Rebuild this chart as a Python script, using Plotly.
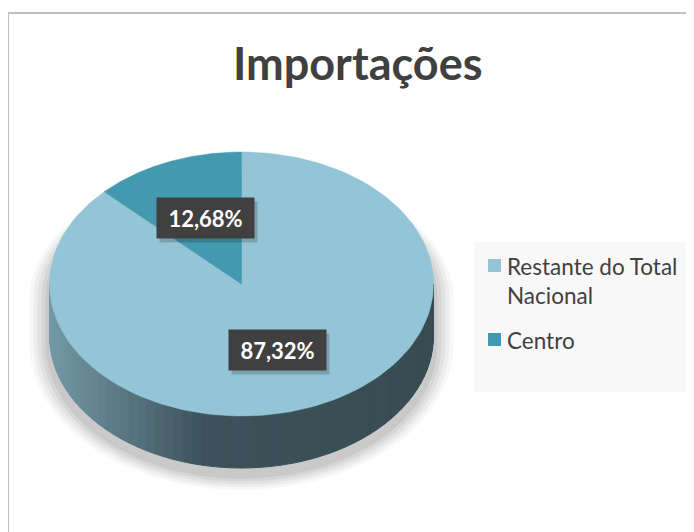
import math
import textwrap
import plotly.graph_objects as go

# ---------------- data ----------------
categories = ["Restante do Total Nacional", "Centro"]
values = [87.32, 12.68]
slice_colors = ["#93c5d7", "#4399b0"]
title_text = "Importações"

# ---------------- geometry / style constants ----------------
W, H = 694, 532
OFF = 8                    # page body margin offset
CX, CY = 241.5, 284.0      # centre of pie top face (pixels)
A, B = 192.0, 132.0        # semi-axes of top face
D = 52.0                   # depth of pie side
FONT = "Lato"
TXT = "#404040"


def pt(t, dy=0.0, a=A, b=B):
    return CX + a * math.sin(t), CY - b * math.cos(t) + dy


def arc(t0, t1, n=120, dy=0.0, a=A, b=B):
    xs, ys = [], []
    for i in range(n + 1):
        t = t0 + (t1 - t0) * i / n
        x, y = pt(t, dy, a, b)
        xs.append(x)
        ys.append(y)
    return xs, ys


def lerp_hex(c1, c2, f):
    c1 = [int(c1[i:i + 2], 16) for i in (1, 3, 5)]
    c2 = [int(c2[i:i + 2], 16) for i in (1, 3, 5)]
    c = [round(c1[k] + (c2[k] - c1[k]) * f) for k in range(3)]
    return "#%02x%02x%02x" % tuple(c)


fig = go.Figure()

# ---- soft shadow (hidden behind the top face at the back) ----
for s, op in [(20, 0.03), (16, 0.04), (12, 0.045), (8, 0.05), (4, 0.06)]:
    xb, yb = arc(-math.pi / 2, math.pi / 2, 80, dy=14, a=A + s, b=B - 4)
    xf, yf = arc(math.pi / 2, 3 * math.pi / 2, 80, dy=8 + D, a=A + s, b=B + s * 0.7)
    fig.add_trace(go.Scatter(x=xb + xf + [xb[0]], y=yb + yf + [yb[0]], mode="lines",
                             fill="toself", fillcolor=f"rgba(0,0,0,{op})",
                             line=dict(width=0), hoverinfo="skip", showlegend=False))

# ---- side of the pie (front half), gradient strips ----
NS = 60
for i in range(NS):
    t0 = math.pi / 2 + math.pi * i / NS
    t1 = math.pi / 2 + math.pi * (i + 1) / NS
    xs, ys = arc(t0, t1, 4)
    xs2, ys2 = arc(t1, t0, 4, dy=D)
    xm = (xs[0] + xs[-1]) / 2
    f = (xm - (CX - A)) / (2 * A)  # 0 at left, 1 at right
    if f < 0.4:
        col = lerp_hex("#7399a7", "#3d525a", f / 0.4)
    else:
        col = lerp_hex("#3d525a", "#384b53", (f - 0.4) / 0.6)
    fig.add_trace(go.Scatter(x=xs + xs2 + [xs[0]], y=ys + ys2 + [ys[0]], mode="lines",
                             fill="toself", fillcolor=col, line=dict(width=1, color=col),
                             hoverinfo="skip", showlegend=False))

# ---- top face slices ----
total = sum(values)
start = 0.0
label_pos = []
for cat, v, col in zip(categories, values, slice_colors):
    t0 = 2 * math.pi * start / total
    t1 = 2 * math.pi * (start + v) / total
    xs, ys = arc(t0, t1, 160)
    fig.add_trace(go.Scatter(x=[CX] + xs + [CX], y=[CY] + ys + [CY], mode="lines",
                             fill="toself", fillcolor=col, line=dict(width=0.5, color=col),
                             name=cat, hoverinfo="name", showlegend=False))
    tm = (t0 + t1) / 2
    label_pos.append(pt(tm, a=A * 0.49, b=B * 0.54))
    start += v

annotations = []

# ---- data labels ----
for (lx, ly), v in zip(label_pos, values):
    txt = f"{v:.2f}".replace(".", ",") + "%"
    annotations.append(dict(x=lx + 3, y=ly + 4, xref="x", yref="y", text=" ",
                            showarrow=False, width=97, height=40, borderpad=0,
                            bgcolor="rgba(0,0,0,0.18)"))
    annotations.append(dict(x=lx, y=ly, xref="x", yref="y", text=f"<b>{txt}</b>",
                            showarrow=False, width=97, height=40, borderpad=0,
                            bgcolor="#404040",
                            font=dict(family=FONT, size=22, color="white")))

# ---- title ----
annotations.append(dict(x=357, y=63, xref="x", yref="y", text=f"<b>{title_text}</b>",
                        showarrow=False, font=dict(family=FONT, size=45, color=TXT)))

# ---- legend (manual) ----
shapes = [
    dict(type="rect", xref="x", yref="y", x0=8, y0=13, x1=W + 40, y1=H + 40,
         line=dict(color="#bfbfbf", width=2), fillcolor="rgba(0,0,0,0)", layer="below"),
    dict(type="rect", xref="x", yref="y", x0=474, y0=242, x1=689, y1=392,
         line=dict(width=0), fillcolor="#f8f8f8", layer="below"),
]
leg_y = [259, 333]
for cat, col, y0 in zip(categories, slice_colors, leg_y):
    shapes.append(dict(type="rect", xref="x", yref="y", x0=488, y0=y0, x1=501, y1=y0 + 13,
                       line=dict(width=0), fillcolor=col))
    wrapped = "<br>".join(textwrap.wrap(cat, 17))
    annotations.append(dict(x=505, y=y0 - 8, xref="x", yref="y", text=wrapped,
                            xanchor="left", yanchor="top", align="left", showarrow=False,
                            font=dict(family=FONT, size=22.5, color=TXT)))

fig.update_layout(
    width=W, height=H,
    margin=dict(l=0, r=0, t=0, b=0),
    paper_bgcolor="white", plot_bgcolor="white",
    xaxis=dict(range=[OFF, W + OFF], visible=False, fixedrange=True),
    yaxis=dict(range=[H + OFF, OFF], visible=False, fixedrange=True),
    shapes=shapes, annotations=annotations,
    showlegend=False,
)

fig.write_html("out.html")
